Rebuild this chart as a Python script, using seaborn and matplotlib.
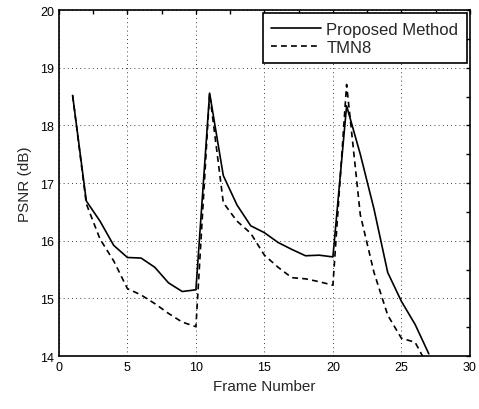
import numpy as np
import pandas as pd
import matplotlib
matplotlib.use("Agg")
import matplotlib.pyplot as plt
from matplotlib.ticker import MultipleLocator
import seaborn as sns

frames = list(range(1, 28))
proposed = [18.52, 16.69, 16.34, 15.92, 15.71, 15.70, 15.54, 15.27, 15.12, 15.15,
            18.56, 17.13, 16.62, 16.26, 16.14, 15.97, 15.85, 15.74, 15.75, 15.72,
            18.34, 17.50, 16.55, 15.45, 14.95, 14.55, 14.04]
tmn8 = [18.52, 16.64, 16.03, 15.65, 15.17, 15.06, 14.91, 14.74, 14.59, 14.51,
        18.56, 16.66, 16.34, 16.13, 15.75, 15.54, 15.36, 15.34, 15.29, 15.23,
        18.71, 16.45, 15.45, 14.71, 14.31, 14.24, 13.80]

df = pd.DataFrame({
    "frame": frames * 2,
    "psnr": proposed + tmn8,
    "method": ["Proposed Method"] * len(frames) + ["TMN8"] * len(frames),
})

sns.set_style("white")
plt.rcParams["font.family"] = ["Liberation Sans", "DejaVu Sans"]

fig = plt.figure(figsize=(4.79, 4.10), dpi=100)
ax = fig.add_axes([0.123, 0.129, 0.858, 0.844])

sns.lineplot(data=df, x="frame", y="psnr", style="method", color="black",
             dashes={"Proposed Method": "", "TMN8": (3.5, 2.5)},
             linewidth=1.2, ax=ax)

ax.set_xlim(0, 30)
ax.set_ylim(14, 20)
ax.xaxis.set_major_locator(MultipleLocator(5))
ax.xaxis.set_minor_locator(MultipleLocator(2.5))
ax.yaxis.set_major_locator(MultipleLocator(1))
ax.yaxis.set_minor_locator(MultipleLocator(0.5))
ax.tick_params(which="both", direction="in", top=True, right=True,
               length=3, width=1, labelsize=9, colors="black")
ax.grid(True, which="major", linestyle=(0, (1, 4)), color="black", linewidth=0.6)
for sp in ax.spines.values():
    sp.set_color("black")
    sp.set_linewidth(1.2)

ax.set_xlabel("Frame Number", fontsize=11)
ax.set_ylabel("PSNR (dB)", fontsize=11, labelpad=6)

leg = ax.legend(loc="upper right", fontsize=12, frameon=True, fancybox=False,
                framealpha=1, edgecolor="black", borderaxespad=0.2,
                handlelength=3.0, handletextpad=0.3, labelspacing=0.2,
                borderpad=0.5, title=None)
leg.get_frame().set_linewidth(1.2)

fig.savefig("out.png", dpi=100)
